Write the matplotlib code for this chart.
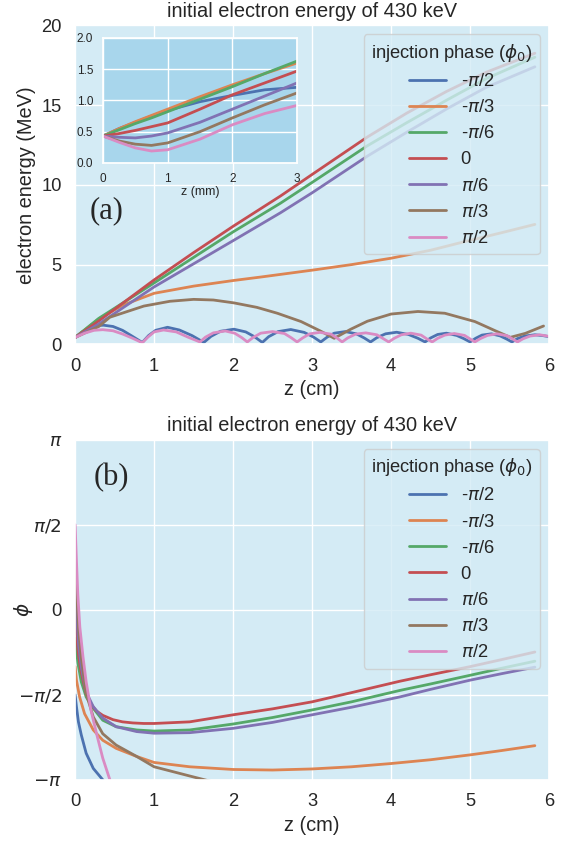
import numpy as np
import matplotlib
matplotlib.use("Agg")
import matplotlib.pyplot as plt
import seaborn as sns

sns.set_theme(context="notebook", style="darkgrid", font_scale=1.2)
plt.rcParams["font.family"] = ["Liberation Sans", "DejaVu Sans"]
plt.rcParams["axes.facecolor"] = "#d4ebf5"

# ---- legend labels / colours ----
phase_labels = ["-$\\pi$/2", "-$\\pi$/3", "-$\\pi$/6", "0", "$\\pi$/6", "$\\pi$/3", "$\\pi$/2"]
colors = sns.color_palette("deep", 7)

# ---- (a) electron energy (MeV) vs z (cm) ----
z_m_pi2 = [0, 0.08, 0.18, 0.27, 0.36, 0.48, 0.6, 0.72, 0.85,
           0.93, 1.02, 1.17, 1.32, 1.48, 1.63,
           1.72, 1.84, 2.01, 2.16, 2.27, 2.37,
           2.45, 2.57, 2.73, 2.9, 3.02, 3.11,
           3.19, 3.28, 3.42, 3.56, 3.66, 3.74,
           3.82, 3.93, 4.07, 4.22, 4.34, 4.43,
           4.5, 4.59, 4.7, 4.83, 4.92, 5.0,
           5.07, 5.15, 5.27, 5.38, 5.46, 5.53,
           5.6, 5.69, 5.82, 5.92, 6.0]
E_m_pi2 = [0.43, 0.75, 1.05, 1.18, 1.2, 1.12, 0.88, 0.52, 0.12,
           0.55, 0.88, 1.07, 0.9, 0.55, 0.12,
           0.5, 0.82, 0.95, 0.78, 0.48, 0.12,
           0.48, 0.8, 0.93, 0.75, 0.45, 0.15,
           0.45, 0.7, 0.8, 0.66, 0.4, 0.15,
           0.42, 0.66, 0.76, 0.62, 0.38, 0.15,
           0.4, 0.62, 0.7, 0.56, 0.36, 0.15,
           0.38, 0.58, 0.66, 0.53, 0.34, 0.15,
           0.36, 0.52, 0.6, 0.55, 0.48]

z_m_pi3 = [0, 0.3, 0.6, 1.0, 1.5, 2.0, 2.35, 3.0, 3.5, 4.0, 4.5, 4.9, 5.4, 5.82]
E_m_pi3 = [0.43, 1.6, 2.45, 3.2, 3.65, 4.0, 4.22, 4.65, 5.0, 5.4, 5.9, 6.4, 7.0, 7.52]

z_m_pi6 = [0, 0.3, 1.0, 1.5, 2.0, 2.6, 3.0, 3.7, 4.2, 4.7, 5.2, 5.82]
E_m_pi6 = [0.43, 1.63, 3.85, 5.45, 7.05, 8.85, 10.15, 12.45, 13.9, 15.3, 16.65, 18.0]

z_zero = [0, 0.3, 1.0, 1.5, 2.0, 2.6, 3.0, 3.7, 4.2, 4.7, 5.2, 5.82]
E_zero = [0.43, 1.47, 4.04, 5.75, 7.4, 9.3, 10.65, 13.0, 14.5, 15.85, 17.05, 18.25]

z_p_pi6 = [0, 0.3, 1.0, 1.5, 2.0, 2.6, 3.0, 3.7, 4.2, 4.7, 5.2, 5.82]
E_p_pi6 = [0.43, 1.28, 3.6, 5.05, 6.5, 8.25, 9.5, 11.8, 13.3, 14.75, 16.1, 17.4]

z_p_pi3 = [0, 0.3, 0.44, 0.87, 1.2, 1.5, 1.75, 2.01, 2.3, 2.56, 2.86, 3.1, 3.28,
           3.49, 3.7, 4.0, 4.34, 4.68, 5.06, 5.32, 5.51, 5.7, 5.93]
E_p_pi3 = [0.43, 1.12, 1.7, 2.4, 2.7, 2.82, 2.78, 2.6, 2.32, 1.95, 1.43, 0.85, 0.38,
           0.95, 1.45, 1.9, 2.06, 1.95, 1.43, 0.85, 0.44, 0.69, 1.15]

z_p_pi2 = [0, 0.12, 0.24, 0.35, 0.48, 0.6, 0.72, 0.85,
           0.92, 1.0, 1.12, 1.28, 1.43, 1.58,
           1.65, 1.75, 1.9, 2.02, 2.11, 2.18,
           2.25, 2.35, 2.5, 2.65, 2.74, 2.81,
           2.88, 2.97, 3.1, 3.24, 3.32, 3.38,
           3.45, 3.55, 3.68, 3.82, 3.9, 3.97,
           4.04, 4.13, 4.25, 4.38, 4.45, 4.52,
           4.59, 4.68, 4.8, 4.93, 5.0, 5.06,
           5.13, 5.22, 5.34, 5.47, 5.54, 5.6,
           5.67, 5.76, 5.88, 6.0]
E_p_pi2 = [0.43, 0.7, 0.88, 0.92, 0.85, 0.65, 0.4, 0.1,
           0.45, 0.78, 0.9, 0.78, 0.45, 0.15,
           0.45, 0.72, 0.84, 0.7, 0.42, 0.15,
           0.42, 0.7, 0.8, 0.68, 0.4, 0.15,
           0.4, 0.66, 0.75, 0.64, 0.38, 0.15,
           0.4, 0.64, 0.72, 0.6, 0.36, 0.15,
           0.38, 0.6, 0.7, 0.58, 0.35, 0.15,
           0.38, 0.58, 0.68, 0.56, 0.34, 0.15,
           0.36, 0.56, 0.66, 0.54, 0.33, 0.15,
           0.35, 0.52, 0.6, 0.5]

# ---- inset: first 3 mm (z in mm) ----
zi = [0, 0.25, 0.5, 0.75, 1.0, 1.5, 2.0, 2.5, 3.0]
Ei_m_pi2 = [0.43, 0.55, 0.65, 0.75, 0.84, 0.98, 1.08, 1.17, 1.21]
Ei_m_pi3 = [0.43, 0.55, 0.66, 0.76, 0.86, 1.06, 1.25, 1.43, 1.60]
Ei_m_pi6 = [0.43, 0.53, 0.63, 0.72, 0.82, 1.02, 1.22, 1.43, 1.63]
Ei_zero = [0.43, 0.47, 0.52, 0.58, 0.64, 0.86, 1.09, 1.28, 1.47]
Ei_p_pi6 = [0.43, 0.41, 0.40, 0.43, 0.48, 0.65, 0.86, 1.07, 1.28]
Ei_p_pi3 = [0.43, 0.35, 0.30, 0.28, 0.32, 0.50, 0.72, 0.93, 1.12]
Ei_p_pi2 = [0.43, 0.33, 0.24, 0.19, 0.21, 0.38, 0.61, 0.79, 0.92]

# ---- (b) phase (rad) vs z (cm) ----
zb_m_pi2 = [0, 0.017, 0.042, 0.078, 0.14, 0.23, 0.35, 0.41]
ph_m_pi2 = [-1.571, -1.79, -2.07, -2.31, -2.65, -2.93, -3.14, -3.24]

zb_m_pi3 = [0, 0.017, 0.057, 0.12, 0.23, 0.35, 0.52, 0.78, 1.0, 1.45, 2.0, 2.5,
            3.0, 3.5, 4.0, 4.5, 5.0, 5.4, 5.82]
ph_m_pi3 = [-1.047, -1.3, -1.61, -1.92, -2.22, -2.41, -2.56, -2.71, -2.82, -2.9,
            -2.95, -2.96, -2.94, -2.9, -2.84, -2.77, -2.68, -2.6, -2.51]

zb_m_pi6 = [0, 0.036, 0.078, 0.14, 0.23, 0.35, 0.52, 0.78, 1.0, 1.45, 2.0, 2.5,
            3.0, 3.5, 4.11, 4.5, 5.0, 5.4, 5.82]
ph_m_pi6 = [-0.524, -0.99, -1.33, -1.61, -1.82, -2.04, -2.16, -2.22, -2.24, -2.22,
            -2.11, -1.99, -1.85, -1.7, -1.49, -1.37, -1.21, -1.08, -0.95]

zb_zero = [0, 0.017, 0.04, 0.07, 0.1, 0.14, 0.2, 0.27, 0.35, 0.48, 0.6, 0.73,
           0.87, 1.0, 1.45, 2.0, 2.5, 3.0, 3.5, 4.11, 4.5, 5.0, 5.4, 5.82]
ph_zero = [0, -0.44, -0.8, -1.1, -1.3, -1.55, -1.74, -1.87, -1.95, -2.03, -2.07, -2.09,
           -2.1, -2.1, -2.07, -1.94, -1.83, -1.7, -1.53, -1.32, -1.2, -1.05, -0.92, -0.78]

zb_p_pi6 = [0, 0.017, 0.042, 0.078, 0.14, 0.23, 0.35, 0.52, 0.78, 1.0, 1.45, 2.0,
            2.5, 3.0, 3.5, 4.11, 4.5, 5.0, 5.4, 5.82]
ph_p_pi6 = [0.524, -0.01, -0.63, -1.06, -1.52, -1.79, -2.0, -2.16, -2.25, -2.28, -2.27,
            -2.19, -2.08, -1.94, -1.8, -1.61, -1.47, -1.3, -1.18, -1.06]

zb_p_pi3 = [0, 0.017, 0.042, 0.078, 0.14, 0.23, 0.35, 0.52, 0.78, 1.0, 1.45, 1.8, 2.1]
ph_p_pi3 = [1.047, 0.42, -0.32, -0.87, -1.55, -1.98, -2.29, -2.5, -2.71, -2.9, -3.07,
            -3.2, -3.3]

zb_p_pi2 = [0, 0.017, 0.034, 0.06, 0.1, 0.14, 0.2, 0.27, 0.35, 0.44, 0.48]
ph_p_pi2 = [1.571, 0.91, 0.29, -0.32, -0.87, -1.33, -1.85, -2.28, -2.74, -3.14, -3.33]

energy = [(z_m_pi2, E_m_pi2), (z_m_pi3, E_m_pi3), (z_m_pi6, E_m_pi6), (z_zero, E_zero),
          (z_p_pi6, E_p_pi6), (z_p_pi3, E_p_pi3), (z_p_pi2, E_p_pi2)]
inset = [Ei_m_pi2, Ei_m_pi3, Ei_m_pi6, Ei_zero, Ei_p_pi6, Ei_p_pi3, Ei_p_pi2]
phase = [(zb_m_pi2, ph_m_pi2), (zb_m_pi3, ph_m_pi3), (zb_m_pi6, ph_m_pi6), (zb_zero, ph_zero),
         (zb_p_pi6, ph_p_pi6), (zb_p_pi3, ph_p_pi3), (zb_p_pi2, ph_p_pi2)]

fig = plt.figure(figsize=(5.69, 8.44), dpi=100)
fig.patch.set_facecolor("white")

# ----- panel (a) -----
ax1 = fig.add_axes([0.132, 0.592, 0.833, 0.378])
for (z, E), c, lab in zip(energy, colors, phase_labels):
    ax1.plot(z, E, color=c, lw=2, label=lab)
ax1.set_xlim(0, 6)
ax1.set_ylim(0, 20)
ax1.set_yticks([0, 5, 10, 15, 20])
ax1.set_xlabel("z (cm)")
ax1.set_ylabel("electron energy (MeV)")
ax1.set_title("initial electron energy of 430 keV", fontsize=14.4)
ax1.text(0.03, 0.42, "(a)", transform=ax1.transAxes, fontsize=22,
         family="Liberation Serif", va="center", ha="left")
ax1.legend(title="injection phase ($\\phi_0$)", loc="upper right",
           fontsize=13.2, title_fontsize=13.2)

# inset with the first millimetres
axi = fig.add_axes([0.181, 0.807, 0.341, 0.148])
axi.set_facecolor("#a8d6ec")
for E, c in zip(inset, colors):
    axi.plot(zi, E, color=c, lw=2)
axi.set_xlim(0, 3)
axi.set_ylim(0, 2)
axi.set_xticks([0, 1, 2, 3])
axi.set_yticks([0, 0.5, 1.0, 1.5, 2.0])
axi.tick_params(labelsize=8.5, pad=1)
axi.set_xlabel("z (mm)", fontsize=9, labelpad=1)

# ----- panel (b) -----
ax2 = fig.add_axes([0.132, 0.076, 0.833, 0.403])
for (z, ph), c, lab in zip(phase, colors, phase_labels):
    ax2.plot(z, ph, color=c, lw=2, label=lab)
ax2.set_xlim(0, 6)
ax2.set_ylim(-np.pi, np.pi)
ax2.set_yticks([-np.pi, -np.pi / 2, 0, np.pi / 2, np.pi])
ax2.set_yticklabels(["$-\\pi$", "$-\\pi/2$", "0", "$\\pi/2$", "$\\pi$"])
ax2.set_xlabel("z (cm)")
ax2.set_ylabel("$\\phi$")
ax2.yaxis.set_label_coords(-0.085, 0.5)
ax2.set_title("initial electron energy of 430 keV", fontsize=14.4)
ax2.text(0.04, 0.89, "(b)", transform=ax2.transAxes, fontsize=22,
         family="Liberation Serif", va="center", ha="left")
ax2.legend(title="injection phase ($\\phi_0$)", loc="upper right",
           fontsize=13.2, title_fontsize=13.2)

fig.savefig("out.png", dpi=100)
